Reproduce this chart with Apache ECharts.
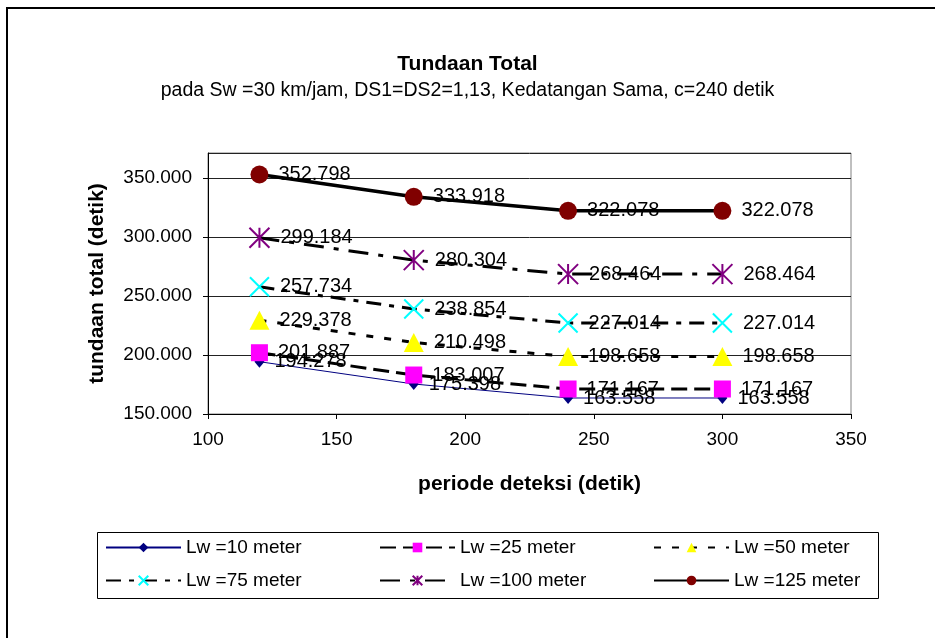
<!DOCTYPE html>
<html>
<head>
<meta charset="utf-8">
<script src="https://cdn.jsdelivr.net/npm/echarts@6/dist/echarts.min.js"></script>
<style>
html,body{margin:0;padding:0;background:#fff;}
#chart{width:935px;height:638px;}
</style>
</head>
<body>
<div id="chart"></div>
<script>
// periode deteksi (detik)
var periode = [120, 180, 240, 300];
// tundaan total per Lw
var lw10 = [194.278, 175.398, 163.558, 163.558];
var lw25 = [201.887, 183.007, 171.167, 171.167];
var lw50 = [229.378, 210.498, 198.658, 198.658];
var lw75 = [257.734, 238.854, 227.014, 227.014];
var lw100 = [299.184, 280.304, 268.464, 268.464];
var lw125 = [352.798, 333.918, 322.078, 322.078];
var namaSeri = ['Lw =10 meter', 'Lw =25 meter', 'Lw =50 meter', 'Lw =75 meter', 'Lw =100 meter', 'Lw =125 meter'];

var font = 'Arial, "Liberation Sans", sans-serif';
var chart = echarts.init(document.getElementById('chart'));

function pasang(ys){
    var d = [];
    for(var i=0;i<periode.length;i++){
        d.push([periode[i], ys[i]]);
    }
    return d;
}

function labelNya(){
    return {
        show: true,
        position: 'right',
        distance: 10,
        color: '#000',
        fontSize: 20,
        fontFamily: font,
        formatter: function(p){ return p.value[1].toFixed(3); }
    };
}

var xPath = 'path://M0,0L10,10M10,0L0,10';
var astPath = 'path://M0,0L10,10M10,0L0,10M5,0L5,10';

function legendItem(name, left, top){
    return {
        data: [name],
        left: left,
        top: top,
        itemWidth: 75,
        itemHeight: 12,
        itemGap: 0,
        padding: 0,
        textStyle: {fontSize: 19, fontFamily: font, color: '#000'},
        selectedMode: false
    };
}

chart.setOption({
    animation: false,
    title: {
        text: 'Tundaan Total',
        subtext: 'pada Sw =30 km/jam, DS1=DS2=1,13, Kedatangan Sama, c=240 detik',
        left: 'center',
        top: 49,
        itemGap: 6,
        textStyle: {fontSize: 21, fontWeight: 'bold', fontFamily: font, color: '#000'},
        subtextStyle: {fontSize: 19.5, fontFamily: font, color: '#000'}
    },
    graphic: [
        {type: 'rect', shape: {x: 7, y: 8, width: 960, height: 660}, style: {fill: 'none', stroke: '#000', lineWidth: 2}, silent: true},
        {type: 'rect', shape: {x: 97.5, y: 532.5, width: 781, height: 66}, style: {fill: 'none', stroke: '#000', lineWidth: 1}, silent: true}
    ],
    legend: [
        legendItem(namaSeri[0], 105, 538),
        legendItem(namaSeri[1], 379, 538),
        legendItem(namaSeri[2], 653, 538),
        legendItem(namaSeri[3], 105, 571),
        legendItem(namaSeri[4], 379, 571),
        legendItem(namaSeri[5], 653, 571)
    ],
    grid: {
        left: 208, top: 153, right: 84, bottom: 224,
        show: true, borderColor: '#808080', borderWidth: 1
    },
    xAxis: {
        type: 'value',
        min: 100, max: 350, interval: 50,
        name: 'periode deteksi (detik)',
        nameLocation: 'middle',
        nameGap: 60,
        nameTextStyle: {fontSize: 21, fontWeight: 'bold', fontFamily: font, color: '#000'},
        axisLine: {lineStyle: {color: '#000'}},
        axisTick: {show: true, length: 5, lineStyle: {color: '#000'}},
        axisLabel: {fontSize: 19, fontFamily: font, color: '#000', margin: 16},
        splitLine: {show: false}
    },
    yAxis: {
        type: 'value',
        min: 150, max: 371, interval: 50,
        name: 'tundaan total (detik)',
        nameLocation: 'middle',
        nameGap: 100,
        nameTextStyle: {fontSize: 21, fontWeight: 'bold', fontFamily: font, color: '#000'},
        axisLine: {show: true, lineStyle: {color: '#000'}},
        axisTick: {show: true, length: 5, lineStyle: {color: '#000'}},
        axisLabel: {fontSize: 19, fontFamily: font, color: '#000', margin: 16, showMaxLabel: false,
            formatter: function(v){ return v.toFixed(3); }},
        splitLine: {show: true, lineStyle: {color: '#222', width: 1}}
    },
    series: [
        {
            name: namaSeri[0], type: 'line', data: pasang(lw10),
            symbol: 'diamond', symbolSize: [10, 12],
            itemStyle: {color: '#000080'},
            lineStyle: {color: '#000080', width: 1},
            label: labelNya()
        },
        {
            name: namaSeri[1], type: 'line', data: pasang(lw25),
            symbol: 'rect', symbolSize: 17,
            itemStyle: {color: '#FF00FF'},
            lineStyle: {color: '#000', width: 3, type: [16, 7]},
            label: labelNya()
        },
        {
            name: namaSeri[2], type: 'line', data: pasang(lw50),
            symbol: 'triangle', symbolSize: [20, 19],
            itemStyle: {color: '#FFFF00'},
            lineStyle: {color: '#000', width: 3, type: [7, 11]},
            label: labelNya()
        },
        {
            name: namaSeri[3], type: 'line', data: pasang(lw75),
            symbol: xPath, symbolSize: 19,
            itemStyle: {color: 'rgba(0,0,0,0)', borderColor: '#00FFFF', borderWidth: 2},
            lineStyle: {color: '#000', width: 3, type: [15, 8, 5, 8]},
            label: labelNya()
        },
        {
            name: namaSeri[4], type: 'line', data: pasang(lw100),
            symbol: astPath, symbolSize: 20,
            itemStyle: {color: 'rgba(0,0,0,0)', borderColor: '#800080', borderWidth: 2},
            lineStyle: {color: '#000', width: 3, type: [20, 10, 5, 10]},
            label: labelNya()
        },
        {
            name: namaSeri[5], type: 'line', data: pasang(lw125),
            symbol: 'circle', symbolSize: 18,
            itemStyle: {color: '#800000'},
            lineStyle: {color: '#000', width: 3.5},
            label: labelNya()
        }
    ]
});
</script>
</body>
</html>
